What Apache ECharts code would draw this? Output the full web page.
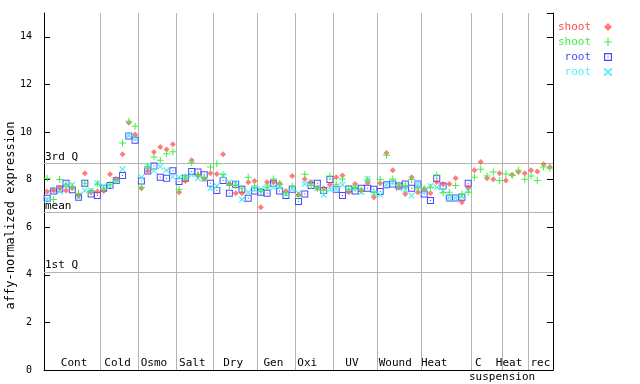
<!DOCTYPE html>
<html><head><meta charset="utf-8">
<script src="https://cdn.jsdelivr.net/npm/echarts@6/dist/echarts.min.js"></script>
<style>html,body{margin:0;padding:0;background:#fff}#c{width:640px;height:384px}</style>
</head><body><div id="c"></div>
<script>
// ---- data ----
const groupNames = ['Cont','Cold','Osmo','Salt','Dry','Gen','Oxi','UV','Wound','Heat','C','Heat','rec'];
const groupLabelPos = [4.78,11.7,17.5,23.6,30.1,36.5,41.9,49.0,55.9,62.1,69.1,74.0,79.0];
const groupBounds = [9,15,21,27,34,40,46,53,60,68,73,77];
const subLabel = 'suspension';
const subLabelPos = 72.9;
const refNames = ['3rd Q','mean','1st Q'];
const refValues = [8.67,6.63,4.12];
const yTicks = [0,2,4,6,8,10,12,14];

const shoot1 = [7.50,7.55,7.65,7.54,7.65,7.33,8.27,7.47,7.50,
  7.52,8.22,8.03,9.06,10.39,9.89,
  7.64,8.36,9.16,9.37,9.26,9.49,
  7.47,7.94,8.81,8.18,8.03,8.27,
  8.24,9.06,7.82,7.43,7.43,7.89,7.94,
  6.84,7.89,7.89,7.85,7.52,8.15,
  7.36,8.03,7.89,7.64,7.64,7.78,
  8.10,8.17,7.47,7.82,7.55,7.87,7.26,
  7.85,9.12,8.39,7.68,7.40,8.10,7.47,
  7.61,7.43,7.90,7.82,7.82,8.06,7.05,7.68,
  8.39,8.74,8.06,8.01,8.27,
  7.96,8.20,8.32,8.27,
  8.39,8.34,8.64,8.53];
const shoot2 = [8.06,7.16,8.00,7.78,7.70,7.43,7.85,7.50,7.82,
  7.60,7.80,7.96,9.54,10.45,10.24,
  7.68,8.55,8.95,8.81,9.09,9.17,
  7.59,8.10,8.71,8.18,8.10,8.53,
  8.67,8.20,7.75,7.75,7.64,8.10,7.73,
  7.50,7.68,8.03,7.80,7.45,7.73,
  7.30,8.22,7.75,7.64,7.54,8.15,
  7.80,8.03,7.58,7.68,7.55,7.99,7.47,
  8.00,9.02,8.03,7.78,7.75,8.00,7.60,
  7.64,7.68,8.19,7.45,7.47,7.75,7.40,7.47,
  8.10,8.43,8.15,8.32,7.96,
  8.24,8.17,8.39,8.01,
  8.15,7.96,8.53,8.48];
const root1 = [7.22,7.52,7.60,7.85,7.57,7.26,7.85,7.40,7.33,
  7.64,7.75,7.96,8.17,9.83,9.65,
  7.94,8.36,8.57,8.10,8.06,8.37,
  7.92,8.06,8.34,8.32,8.20,7.85,
  7.54,7.96,7.43,7.80,7.59,7.22,7.52,
  7.47,7.43,7.85,7.52,7.33,7.59,
  7.08,7.40,7.75,7.85,7.54,8.00,
  7.59,7.33,7.61,7.52,7.64,7.64,7.59,
  7.50,7.78,7.82,7.73,7.82,7.64,7.82,
  7.40,7.12,8.05,7.73,7.23,7.23,7.26,7.85];
const root2 = [7.16,7.56,7.50,7.75,7.78,7.26,7.54,7.54,7.85,
  7.71,7.72,7.96,8.43,9.86,9.75,
  8.10,8.57,8.39,8.55,8.39,8.12,
  8.10,8.10,8.20,8.06,8.03,7.64,
  7.73,8.17,7.89,7.85,7.16,7.47,7.59,
  7.59,7.68,7.68,7.68,7.40,7.62,
  7.43,7.82,7.89,7.64,7.36,7.59,
  7.59,7.78,7.54,7.64,7.47,8.03,7.43,
  7.36,7.78,7.89,7.64,7.57,7.33,7.82,
  7.50,7.73,7.68,7.54,7.23,7.23,7.30,7.55];

// ---- styles ----
const FONT = 'DejaVu Sans Mono';
const RED = '#ff4a4a', GREEN = '#44ee44', BLUE = '#4848ff', CYAN = '#55eeee';
const plusPath = 'path://M3,0H4V7H3Z M0,3H7V4H0Z';
const xPath = 'path://M0,0L1,0L7,6L7,7L6,7L0,1Z M6,0L7,0L7,1L1,7L0,7L0,6Z';
const sqPath = 'path://M0,0H7V7H0Z M1,1V6H6V1Z M3,3H4V4H3Z';
const dmPath = 'path://M3.5,0L7,3.5L3.5,7L0,3.5Z';

function pts(arr){ return arr.map((v,i)=>[i+0.5,v]); }

const chart = echarts.init(document.getElementById('c'), null, {renderer:'canvas'});
const option = {
  animation:false,
  backgroundColor:'#ffffff',
  grid:{left:44,right:87,top:13,bottom:14,containLabel:false,outerBoundsMode:'none'},
  xAxis:[{
    type:'value',min:0,max:81,
    axisLine:{show:true,onZero:false,lineStyle:{color:'#000',width:1}},
    axisTick:{show:false},splitLine:{show:false},
    axisLabel:{customValues:groupLabelPos,
      formatter:(v)=>{const k=groupLabelPos.findIndex(p=>Math.abs(p-v)<1e-6);return k>=0?groupNames[k]:'';},
      margin:-12,fontFamily:FONT,fontSize:11,color:'#000'}
  },{
    type:'value',min:0,max:81,position:'bottom',
    axisLine:{show:false},axisTick:{show:false},splitLine:{show:false},
    axisLabel:{customValues:[subLabelPos],formatter:()=>subLabel,margin:2,fontFamily:FONT,fontSize:11,color:'#000'}
  }],
  yAxis:[{
    type:'value',min:0,max:15,interval:2,position:'left',
    axisLine:{show:true,onZero:false,lineStyle:{color:'#000',width:1}},
    axisTick:{show:true,inside:true,length:6,lineStyle:{color:'#000'}},
    axisLabel:{showMaxLabel:false,margin:12,fontFamily:FONT,fontSize:10,color:'#000',
      formatter:(v)=>yTicks.includes(v)?String(v):''},
    splitLine:{show:false},
    name:'affy-normalized expression',nameLocation:'middle',nameGap:27,nameMoveOverlap:false,
    nameTextStyle:{fontFamily:FONT,fontSize:12,color:'#000',padding:[0,48,0,0]}
  },{
    type:'value',min:0,max:15,interval:2,position:'right',
    axisLine:{show:true,onZero:false,lineStyle:{color:'#000',width:1}},
    axisTick:{show:true,inside:true,length:6,lineStyle:{color:'#000'}},
    axisLabel:{show:false},splitLine:{show:false}
  }],
  legend:{
    orient:'vertical',right:23,top:16,align:'right',itemWidth:24,itemHeight:8,itemGap:3,
    symbolKeepAspect:true,
    formatter:(n)=>n.trim(),
    textStyle:{fontFamily:FONT,fontSize:11,lineHeight:12},
    data:[{name:'shoot',textStyle:{color:RED}},{name:'shoot ',textStyle:{color:GREEN}},
          {name:'root',textStyle:{color:BLUE}},{name:'root ',textStyle:{color:CYAN}}]
  },
  series:[
    {name:'root',type:'scatter',data:pts(root1),symbol:sqPath,symbolSize:7,
     itemStyle:{color:BLUE,opacity:1},
     markLine:{silent:true,symbol:'none',z:1,animation:false,
       lineStyle:{color:'#b4b4b4',width:1,type:'solid'},
       label:{show:false},
       data:[...refValues.map((v,k)=>({yAxis:v,label:{show:true,formatter:refNames[k],position:'insideStartTop',
               distance:[1,1],fontFamily:FONT,fontSize:11,color:'#000'}})),
             ...groupBounds.map(b=>({xAxis:b}))]}},
    {name:'root ',type:'scatter',data:pts(root2),symbol:xPath,symbolSize:6,itemStyle:{color:CYAN,opacity:1}},
    {name:'shoot',type:'scatter',data:pts(shoot1),symbol:dmPath,symbolSize:6,symbolKeepAspect:true,
     itemStyle:{color:'rgba(255,80,80,0.75)',opacity:1}},
    {name:'shoot ',type:'scatter',data:pts(shoot2),symbol:plusPath,symbolSize:7,itemStyle:{color:GREEN,opacity:1}}
  ]
};
chart.setOption(option);
</script></body></html>
